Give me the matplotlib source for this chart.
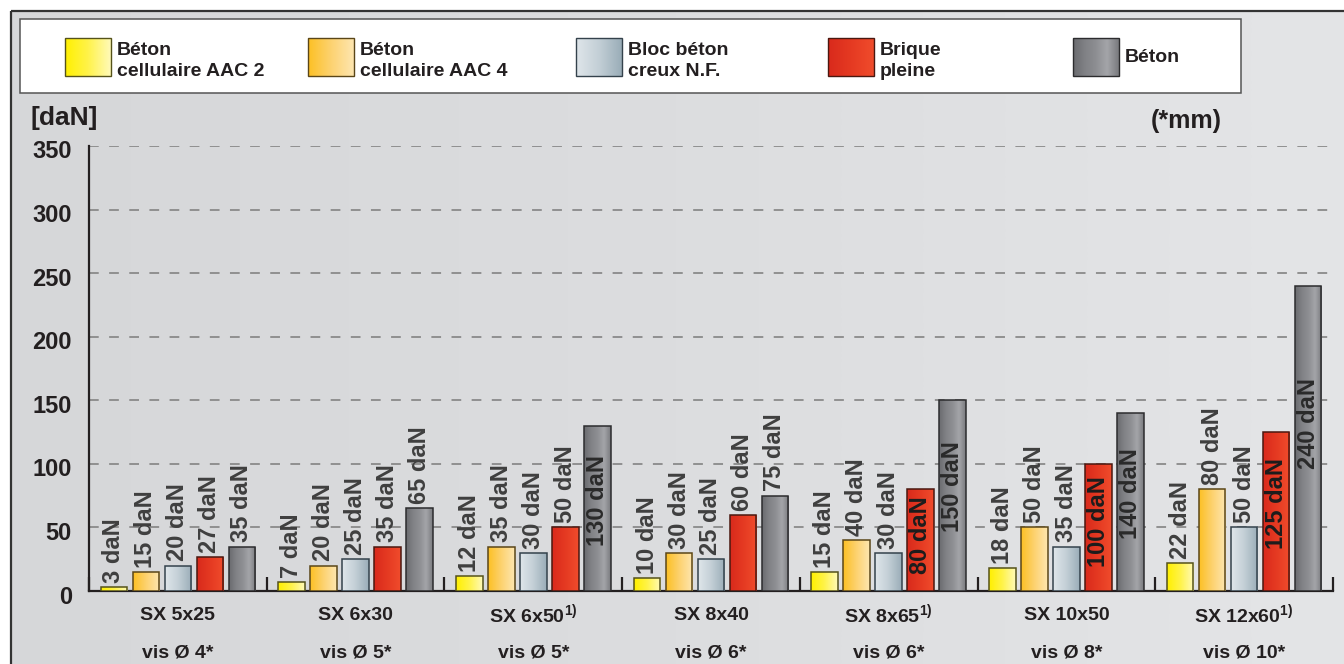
import matplotlib
matplotlib.use("Agg")
import matplotlib.pyplot as plt
import matplotlib.patches as patches
import matplotlib.transforms as mtransforms
import matplotlib.colors as mcolors
import numpy as np

plt.rcParams['font.family'] = ['Liberation Sans', 'DejaVu Sans']
plt.rcParams['mathtext.fontset'] = 'custom'
plt.rcParams['mathtext.bf'] = 'Liberation Sans:bold'
plt.rcParams['mathtext.rm'] = 'Liberation Sans:bold'
plt.rcParams['lines.scale_dashes'] = False

# data
categories = ['SX 5x25', 'SX 6x30', 'SX 6x50', 'SX 8x40', 'SX 8x65', 'SX 10x50', 'SX 12x60']
footnote = [False, False, True, False, True, False, True]
screws = ['vis Ø 4*', 'vis Ø 5*', 'vis Ø 5*', 'vis Ø 6*', 'vis Ø 6*', 'vis Ø 8*', 'vis Ø 10*']
aac2 = [3, 7, 12, 10, 15, 18, 22]
aac4 = [15, 20, 35, 30, 40, 50, 80]
bloc = [20, 25, 30, 25, 30, 35, 50]
brique = [27, 35, 50, 60, 80, 100, 125]
beton = [35, 65, 130, 75, 150, 140, 240]
series = [aac2, aac4, bloc, brique, beton]
legend_labels = ['Béton\ncellulaire AAC 2', 'Béton\ncellulaire AAC 4', 'Bloc béton\ncreux N.F.',
                 'Brique\npleine', 'Béton']
y_ticks = [0, 50, 100, 150, 200, 250, 300, 350]

# gradient stops (left -> right) and edge colour per material
grads = [
    ['#fff000', '#fff34a', '#fffab8'],
    ['#fcc024', '#fdd270', '#fee6b0'],
    ['#dfe6ea', '#c3cfd6', '#9aadb8'],
    ['#d92a1c', '#e53a22', '#f04c2c'],
    ['#6a6b6f', '#808185', '#8d8e92', '#a4a5a9', '#7a7b7f'],
]
edges = ['#55521a', '#5a4618', '#34424c', '#4a1810', '#2c2c2e']
inside_col = [None, None, None, '#1c1c1c', '#2a2a2a']


def grad_img(stops, n=64):
    rgb = np.array([mcolors.to_rgb(c) for c in stops])
    pos = np.linspace(0, 1, len(stops))
    t = np.linspace(0, 1, n)
    img = np.stack([np.interp(t, pos, rgb[:, k]) for k in range(3)], axis=-1)
    return img[np.newaxis, :, :]


W, H = 1344, 664
fig = plt.figure(figsize=(W / 100, H / 100), dpi=100)
fig.patch.set_facecolor('white')

# background canvas in pixel coordinates
bg = fig.add_axes([0, 0, 1, 1], zorder=0)
bg.set_xlim(0, W)
bg.set_ylim(H, 0)
bg.axis('off')
bgrad = grad_img(['#d6d7d9', '#dcdddf', '#e4e5e7'])
bg.imshow(bgrad, extent=[11, W, H, 11], aspect='auto', interpolation='bicubic', zorder=0)
bg.plot([11, W], [11, 11], color='#333333', lw=1.6, solid_capstyle='butt', zorder=1)
bg.plot([11, 11], [11, H], color='#333333', lw=1.6, solid_capstyle='butt', zorder=1)

# legend box
bg.add_patch(patches.Rectangle((20, 19), 1221, 74, fc='white', ec='#555555', lw=1.1, zorder=2))
sw_x = [65, 308, 576, 828, 1073]
for i, lab in enumerate(legend_labels):
    x0 = sw_x[i]
    sw = patches.Rectangle((x0, 38), 46, 38, fc='none', ec=edges[i], lw=1.0, zorder=4)
    bg.add_patch(sw)
    im = bg.imshow(grad_img(grads[i]), extent=[x0, x0 + 46, 76, 38], aspect='auto',
                   interpolation='bicubic', zorder=3)
    im.set_clip_path(sw)
    bg.text(x0 + 52, 61 if '\n' in lab else 57, lab, ha='left', va='center',
            fontsize=14, fontweight='bold', color='#231f20', linespacing=1.25,
            family=['Liberation Sans Narrow', 'Liberation Sans', 'DejaVu Sans'], zorder=4)

bg.text(30, 118, '[daN]', ha='left', va='center', fontsize=19, fontweight='bold', color='#231f20')
bg.text(1222, 121, '(*mm)', ha='right', va='center', fontsize=18, fontweight='bold', color='#231f20')

# main chart axes
ax = fig.add_axes([89 / W, 1 - 591 / H, (1333 - 89) / W, (591 - 146) / H], zorder=1)
ax.set_facecolor('none')
ng = len(categories)
pitch, bw = 0.18, 0.149
for k, vals in enumerate(series):
    xs = np.arange(ng) + 0.5 + (k - 2) * pitch
    bars = ax.bar(xs, vals, width=bw, color='none', edgecolor=edges[k], lw=1.1, zorder=4)
    for b, v in zip(bars, vals):
        x0 = b.get_x()
        im = ax.imshow(grad_img(grads[k]), extent=[x0, x0 + bw, 0, v], aspect='auto',
                       interpolation='bicubic', zorder=3)
        im.set_clip_path(b)
        lab = f'{v} daN'
        if k >= 3 and v >= 80:
            ax.text(b.get_x() + bw / 2, v * 0.55, lab, rotation=90, ha='center', va='center',
                    fontsize=17, fontweight='bold', color=inside_col[k], zorder=5)
        else:
            ax.annotate(lab, (b.get_x() + bw / 2, v), xytext=(0, 3), textcoords='offset points',
                        rotation=90, ha='center', va='bottom', fontsize=17, fontweight='bold',
                        color='#3f3f3f', zorder=5)

ax.set_xlim(0, ng)
ax.set_ylim(0, 350)
for s in ['top', 'right']:
    ax.spines[s].set_visible(False)
for s in ['left', 'bottom']:
    ax.spines[s].set_color('#231f20')
    ax.spines[s].set_linewidth(1.6)
ax.set_xticks(np.arange(ng + 1))
ax.set_xticklabels([])
ax.tick_params(axis='x', direction='in', length=10, width=1.6, color='#231f20')
ax.set_yticks(y_ticks)
ax.set_yticklabels([])
ax.tick_params(axis='y', length=0)
for t in y_ticks[1:]:
    ax.axhline(t, color='#8a8a8a', lw=1.3, dashes=(7, 7.5), zorder=1)

# y tick labels, drawn a little below their gridline like the original
ytr = mtransforms.offset_copy(mtransforms.blended_transform_factory(bg.transData, ax.transData),
                              fig=fig, y=-6, units='dots')
for t in y_ticks:
    ax.text(72, t, str(t), transform=ytr, ha='right', va='center', fontsize=17,
            fontweight='bold', color='#231f20', clip_on=False)

# category labels
xtr = mtransforms.blended_transform_factory(ax.transData, bg.transData)
for i, (c, s) in enumerate(zip(categories, screws)):
    txt = c + (r'$^{\mathbf{1)}}$' if footnote[i] else '')
    ax.text(i + 0.5, 615, txt, transform=xtr, ha='center', va='center', fontsize=14,
            fontweight='bold', color='#231f20', clip_on=False)
    ax.text(i + 0.5, 653, s, transform=xtr, ha='center', va='center', fontsize=14,
            fontweight='bold', color='#231f20', clip_on=False)

fig.savefig('out.png', dpi=100)
